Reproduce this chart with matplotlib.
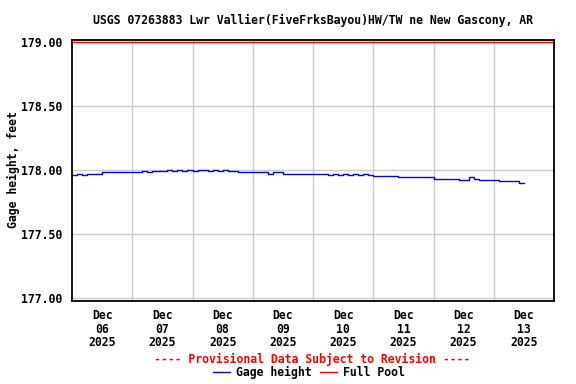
import numpy as np
import matplotlib
matplotlib.use("Agg")
import matplotlib.pyplot as plt
from datetime import datetime, timedelta

title = "USGS 07263883 Lwr Vallier(FiveFrksBayou)HW/TW ne New Gascony, AR"
ylabel = "Gage height, feet"
start = datetime(2025, 12, 6, 0, 0)
step_hours = 2
# Gage height readings every 2 hours from Dec 06 00:00
gage = [
    177.96, 177.97, 177.96, 177.97, 177.97, 177.97, 177.98, 177.98, 177.98, 177.98, 177.98, 177.98,
    177.98, 177.98, 177.99, 177.98, 177.99, 177.99, 177.99, 178.00, 177.99, 178.00, 177.99, 178.00,
    177.99, 178.00, 178.00, 177.99, 178.00, 177.99, 178.00, 177.99, 177.99, 177.98, 177.98, 177.98,
    177.98, 177.98, 177.98, 177.97, 177.98, 177.98, 177.97, 177.97, 177.97, 177.97, 177.97, 177.97,
    177.97, 177.97, 177.97, 177.96, 177.97, 177.96, 177.97, 177.96, 177.97, 177.96, 177.97, 177.96,
    177.95, 177.95, 177.95, 177.95, 177.95, 177.94, 177.94, 177.94, 177.94, 177.94, 177.94, 177.94,
    177.93, 177.93, 177.93, 177.93, 177.93, 177.92, 177.92, 177.94, 177.93, 177.92, 177.92, 177.92,
    177.92, 177.91, 177.91, 177.91, 177.91, 177.90, 177.90,
]
full_pool = 179.00
ytick_vals = [177.00, 177.50, 178.00, 178.50, 179.00]
day_labels = ["Dec\n06\n2025", "Dec\n07\n2025", "Dec\n08\n2025", "Dec\n09\n2025",
              "Dec\n10\n2025", "Dec\n11\n2025", "Dec\n12\n2025", "Dec\n13\n2025"]

plt.rcParams['font.family'] = ['DejaVu Sans Mono']
plt.rcParams['font.weight'] = 'bold'
fs = 8.3

times = [start + timedelta(hours=step_hours * i) for i in range(len(gage))]

fig = plt.figure(figsize=(5.76, 3.84), dpi=100)
ax = fig.add_axes([72 / 576, 1 - 301 / 384, (554 - 72) / 576, (301 - 40) / 384])

ax.set_xlim(start, start + timedelta(days=8))
ax.set_ylim(176.977, 179.012)

ax.set_yticks(ytick_vals)
ax.set_yticklabels([f"{v:.2f}" for v in ytick_vals], fontsize=fs, fontweight='bold')
ax.yaxis.grid(True, color='#cccccc', linewidth=1)
midnights = [start + timedelta(days=d) for d in range(1, 8)]
for m in midnights:
    ax.axvline(m, color='#cccccc', linewidth=1, zorder=0)
noons = [start + timedelta(days=d, hours=12) for d in range(8)]
ax.set_xticks(noons)
ax.set_xticklabels(day_labels, fontsize=fs, fontweight='bold', linespacing=1.05)
ax.tick_params(axis='both', length=0)
ax.tick_params(axis='y', pad=7)
ax.tick_params(axis='x', pad=6)
ax.set_axisbelow(True)

l1, = ax.plot(times, gage, color='#0000ff', linewidth=1, drawstyle='steps-post', label='Gage height')
l2 = ax.axhline(full_pool, color='#ff0000', linewidth=1, label='Full Pool')

for s in ax.spines.values():
    s.set_linewidth(1.3)
    s.set_color('black')

fig.text(13 / 576, 1 - 170 / 384, ylabel, rotation=90, ha='center', va='center',
         fontsize=fs, fontweight='bold')

fig.text(313 / 576, 1 - 20 / 384, title, ha='center', va='center', fontsize=fs, fontweight='bold')
fig.text(312 / 576, 1 - 359 / 384, "---- Provisional Data Subject to Revision ----",
         ha='center', va='center', fontsize=fs, fontweight='bold', color='#ff0000')
fig.legend(handles=[l1, l2], loc='center', bbox_to_anchor=(309 / 576, 1 - 372 / 384), ncol=2,
           frameon=False, handlelength=1.5, handletextpad=0.5, columnspacing=0.7,
           borderpad=0, prop={'weight': 'bold', 'size': fs})

fig.savefig("out.png", dpi=100)
